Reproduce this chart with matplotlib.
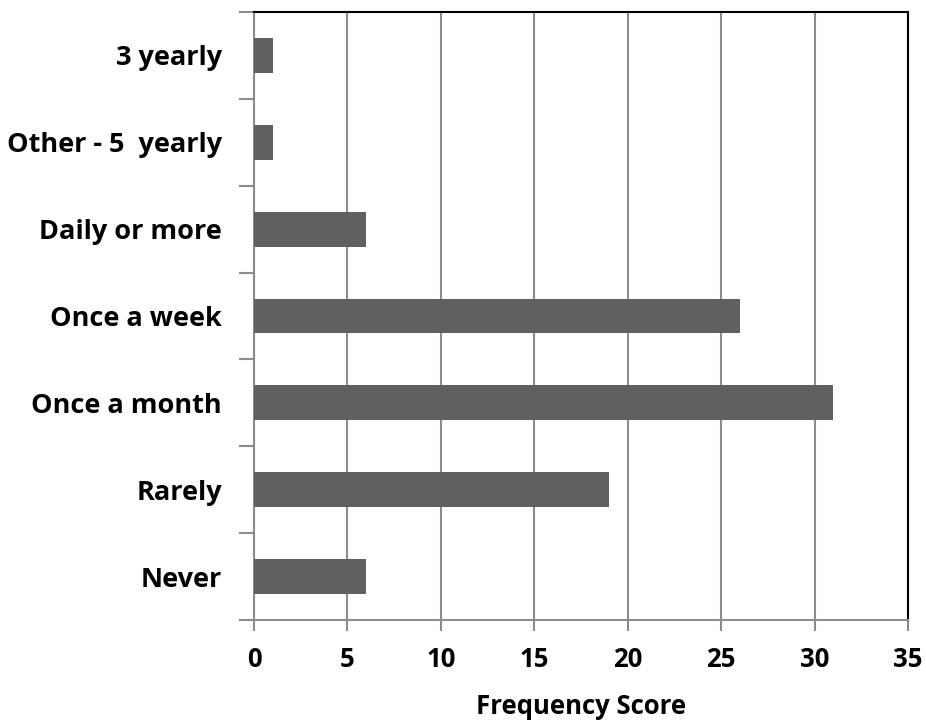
import matplotlib
matplotlib.use("Agg")
import matplotlib.pyplot as plt
import numpy as np

categories = ["Never", "Rarely", "Once a month", "Once a week",
              "Daily or more", "Other - 5  yearly", "3 yearly"]
scores = [6, 19, 31, 26, 6, 1, 1]
x_ticks = [0, 5, 10, 15, 20, 25, 30, 35]

plt.rcParams["font.family"] = ["Open Sans", "DejaVu Sans"]
plt.rcParams["font.weight"] = "bold"
FS = 18.5
FS_CAT = 19.5

fig = plt.figure(figsize=(9.26, 7.24), dpi=100)
ax = fig.add_axes([254 / 926, 1 - 620 / 724, (908 - 254) / 926, (620 - 12) / 724])

y = np.arange(len(categories))
ax.barh(y, scores, height=0.4, color="#606060", zorder=3)

ax.set_xlim(0, 35)
ax.set_ylim(-0.5, len(categories) - 0.5)
ax.set_xticks(x_ticks)
ax.set_xticklabels([str(t) for t in x_ticks], fontsize=FS, fontweight="bold")
ax.set_yticks(y)
ax.set_yticklabels(categories, fontsize=FS_CAT, fontweight="bold")
ax.tick_params(axis="y", length=0, pad=23)
ax.set_yticks(np.arange(-0.5, len(categories)), minor=True)
ax.tick_params(axis="y", which="minor", length=11, width=1.5, color="#8c8c8c")
ax.tick_params(axis="x", length=8, width=1.5, color="#8c8c8c", pad=11)

ax.grid(axis="x", color="#8c8c8c", linewidth=1.5, zorder=0)
for side in ("left", "bottom"):
    ax.spines[side].set_color("#8c8c8c")
    ax.spines[side].set_linewidth(1.5)
for side in ("top", "right"):
    ax.spines[side].set_color("black")
    ax.spines[side].set_linewidth(1.5)

ax.set_xlabel("Frequency Score", fontsize=FS, fontweight="bold", labelpad=14)

fig.savefig("out.png", dpi=100)
